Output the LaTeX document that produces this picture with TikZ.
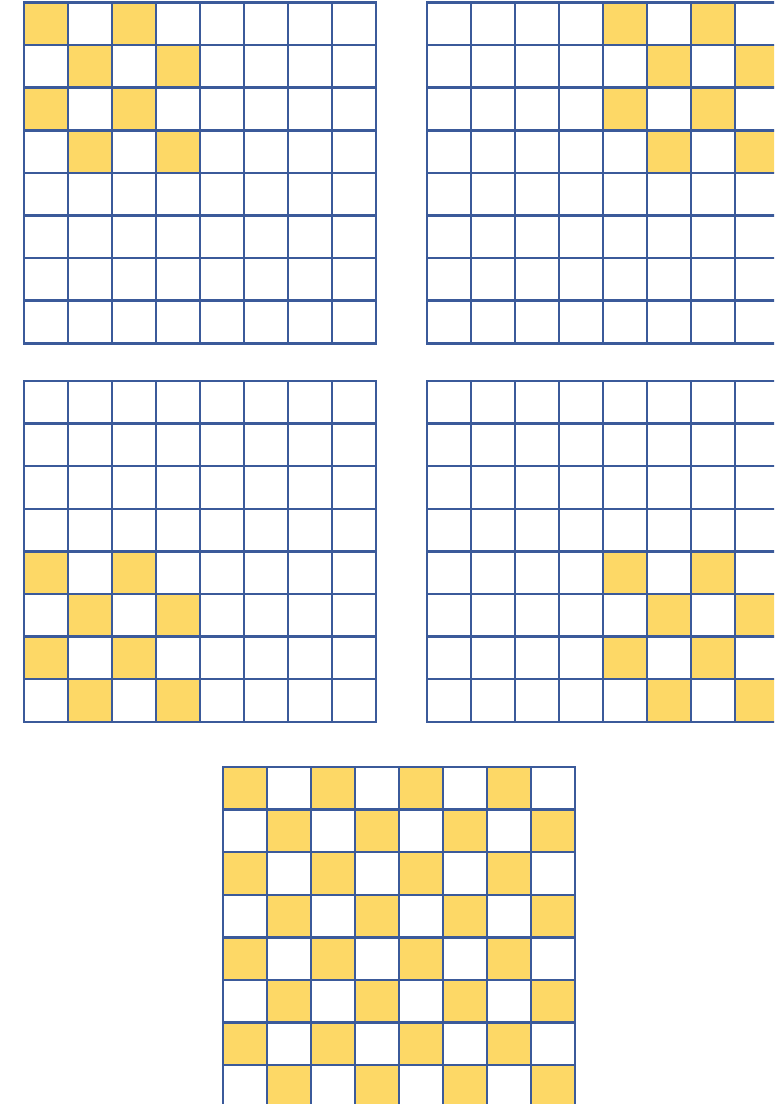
\documentclass[tikz,border=0pt]{standalone}
\usepackage{tikz}
\definecolor{gridblue}{HTML}{3B5A9A}
\definecolor{cellyellow}{HTML}{FDD866}
\tikzset{
  cell/.style={fill=cellyellow, draw=none},
  gridline/.style={draw=gridblue, line width=1.4pt, line cap=rect},
}
% one 8x8 board: #1,#2 = top left corner (px), #3 = cells to fill as col/row
\newcommand{\drawboard}[3]{%
  \foreach \c/\r in {#3}
    \fill[cell] ({#1+(\c-1)*44},{#2+(\r-1)*42.6}) rectangle ++(44,42.6);
  \foreach \i in {0,...,8} {
    \draw[gridline] ({#1+\i*44},#2) -- ++(0,340.8);
    \draw[gridline] (#1,{#2+\i*42.6}) -- ++(352,0);
  }
}

\begin{document}
\begin{tikzpicture}[x=0.02cm, y=-0.02cm]
  \useasboundingbox[fill=white] (0,0) rectangle (774,1104);
  \clip (0,0) rectangle (774,1104);

  % four corner boards
  \drawboard{24}{2.5}{1/1,3/1,2/2,4/2,1/3,3/3,2/4,4/4}
  \drawboard{427}{2.5}{5/1,7/1,6/2,8/2,5/3,7/3,6/4,8/4}
  \drawboard{24}{381}{1/5,3/5,2/6,4/6,1/7,3/7,2/8,4/8}
  \drawboard{427}{381}{5/5,7/5,6/6,8/6,5/7,7/7,6/8,8/8}

  % full board
  \foreach \r in {1,...,8}
    \foreach \k in {0,...,3}
      \fill[cell] ({223+(2*\k+mod(\r+1,2))*44},{767+(\r-1)*42.6}) rectangle ++(44,42.6);
  \drawboard{223}{767}{}
\end{tikzpicture}
\end{document}
